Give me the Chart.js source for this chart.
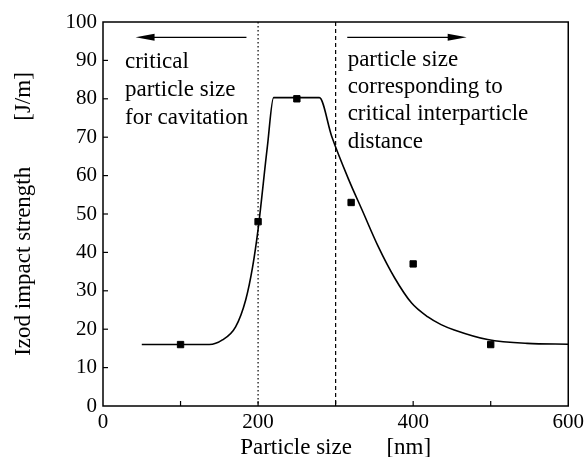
<!DOCTYPE html>
<html>
<head>
<meta charset="utf-8">
<script src="https://cdn.jsdelivr.net/npm/chart.js@4.4.1/dist/chart.umd.min.js"></script>
<style>
  html, body { margin: 0; padding: 0; background: #fff; }
  #wrap { width: 588px; height: 457px; }
</style>
</head>
<body>
<div id="wrap"><canvas id="izodChart" width="588" height="457"></canvas></div>
<script>
// measured points (squares)
const sizeNm = [100, 200, 250, 320, 400, 500];
const izod = [16, 48, 80, 53, 37, 16];

// fitted curve
const curveX = [50, 137, 154, 171, 184, 193, 200, 212, 220, 279, 295, 317, 334, 355, 376, 398, 419, 436, 453, 496, 547, 600];
const curveY = [16, 16, 17.2, 20.6, 27.6, 36.3, 46, 67.6, 80.3, 80.3, 70.2, 58.9, 51.1, 41.5, 33.4, 26.8, 23.2, 21.2, 19.8, 17.3, 16.3, 16.1];

// reference lines and notes
const cavitationLimit = 200;
const distanceLimit = 300;
const arrowY = 96;
const leftArrow = [185, 42];
const rightArrow = [315, 469];
const leftNote = ["critical", "particle size", "for cavitation"];
const rightNote = ["particle size", "corresponding to", "critical interparticle", "distance"];

const SERIF = "'Liberation Serif', 'DejaVu Serif', serif";

const overlay = {
  id: "overlay",
  afterDatasetsDraw(chart) {
    const { ctx, chartArea: a, scales: { x, y } } = chart;
    ctx.save();
    ctx.strokeStyle = "#000";
    ctx.fillStyle = "#000";

    // frame
    ctx.lineWidth = 1.5;
    ctx.strokeRect(a.left, a.top, a.right - a.left, a.bottom - a.top);

    // inward ticks
    ctx.lineWidth = 1.2;
    for (let v = 100; v < 600; v += 100) {
      const px = x.getPixelForValue(v);
      ctx.beginPath(); ctx.moveTo(px, a.bottom); ctx.lineTo(px, a.bottom - 5); ctx.stroke();
    }
    for (let v = 10; v < 100; v += 10) {
      const py = y.getPixelForValue(v);
      ctx.beginPath(); ctx.moveTo(a.left, py); ctx.lineTo(a.left + 5, py); ctx.stroke();
    }

    // dotted line at 200, dashed at 300
    ctx.lineWidth = 1.2;
    ctx.setLineDash([1.5, 2.5]);
    let px = x.getPixelForValue(cavitationLimit);
    ctx.beginPath(); ctx.moveTo(px, a.top); ctx.lineTo(px, a.bottom); ctx.stroke();
    ctx.setLineDash([4, 3]);
    px = x.getPixelForValue(distanceLimit);
    ctx.beginPath(); ctx.moveTo(px, a.top); ctx.lineTo(px, a.bottom); ctx.stroke();
    ctx.setLineDash([]);

    // arrows
    const arrow = (from, to) => {
      const x0 = x.getPixelForValue(from), x1 = x.getPixelForValue(to);
      const py = y.getPixelForValue(arrowY);
      const dir = Math.sign(x1 - x0);
      ctx.lineWidth = 1.2;
      ctx.beginPath(); ctx.moveTo(x0, py); ctx.lineTo(x1 - dir * 10, py); ctx.stroke();
      ctx.beginPath();
      ctx.moveTo(x1, py);
      ctx.lineTo(x1 - dir * 19, py - 3.5);
      ctx.lineTo(x1 - dir * 19, py + 3.5);
      ctx.closePath(); ctx.fill();
    };
    arrow(leftArrow[0], leftArrow[1]);
    arrow(rightArrow[0], rightArrow[1]);

    // notes
    ctx.font = "23px " + SERIF;
    ctx.textBaseline = "middle";
    ctx.textAlign = "left";
    leftNote.forEach((t, i) => ctx.fillText(t, a.left + 22, a.top + 40 + i * 28));
    rightNote.forEach((t, i) => ctx.fillText(t, x.getPixelForValue(distanceLimit) + 12, a.top + 38 + i * 27.2));

    ctx.restore();
  }
};

new Chart(document.getElementById("izodChart").getContext("2d"), {
  data: {
    datasets: [
      {
        type: "line",
        data: curveX.map((v, i) => ({ x: v, y: curveY[i] })),
        borderColor: "#000",
        borderWidth: 1.6,
        pointRadius: 0,
        cubicInterpolationMode: "monotone",
        fill: false,
      },
      {
        type: "scatter",
        data: sizeNm.map((v, i) => ({ x: v, y: izod[i] })),
        pointStyle: "rect",
        pointRadius: 4.5,
        backgroundColor: "#000",
        borderColor: "#000",
      },
    ],
  },
  options: {
    responsive: false,
    animation: false,
    layout: { padding: { top: 22, right: 17, left: 0, bottom: 0 } },
    plugins: { legend: { display: false }, tooltip: { enabled: false } },
    scales: {
      x: {
        type: "linear",
        min: 0,
        max: 600,
        grid: { display: false, drawTicks: false },
        border: { display: false },
        ticks: {
          stepSize: 100,
          padding: 4,
          color: "#000",
          font: { family: SERIF, size: 21 },
          callback: (v) => (v % 200 === 0 ? v : ""),
        },
        title: {
          display: true,
          text: "Particle size      [nm]",
          color: "#000",
          font: { family: SERIF, size: 23 },
          padding: { top: 0, bottom: -5 },
        },
        afterFit: (s) => { s.height = 51; },
      },
      y: {
        min: 0,
        max: 100,
        grid: { display: false, drawTicks: false },
        border: { display: false },
        ticks: {
          stepSize: 10,
          padding: 6,
          color: "#000",
          font: { family: SERIF, size: 21 },
        },
        title: {
          display: true,
          text: "Izod impact strength        [J/m]",
          color: "#000",
          font: { family: SERIF, size: 23 },
          padding: { top: 10, bottom: 0 },
        },
        afterFit: (s) => { s.width = 103; },
      },
    },
  },
  plugins: [overlay],
});
</script>
</body>
</html>
